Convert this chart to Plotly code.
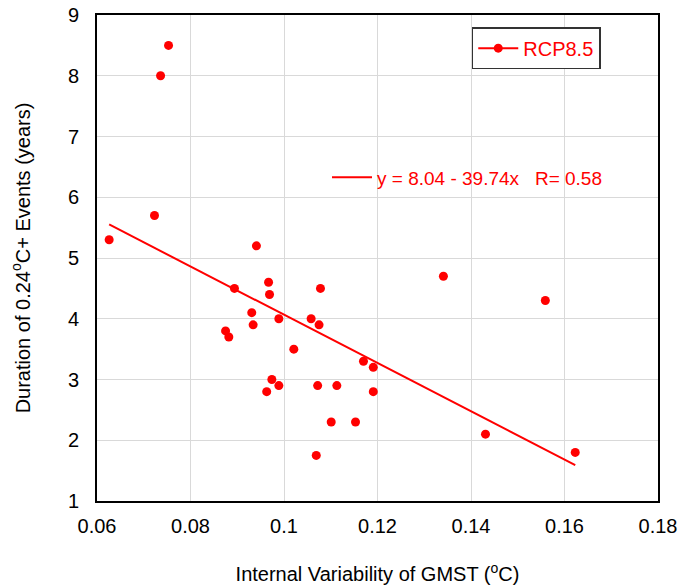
import plotly.graph_objects as go

x_vals = [0.0626, 0.0723, 0.0736, 0.0753, 0.0941, 0.0894, 0.0967, 0.0969, 0.0931, 0.0934,
          0.0989, 0.0875, 0.0882, 0.1021, 0.0974, 0.0989, 0.0963, 0.1058, 0.1078, 0.1075,
          0.1072, 0.1113, 0.1101, 0.1153, 0.1069, 0.1170, 0.1191, 0.1191, 0.1341, 0.1431,
          0.1559, 0.1623]
y_vals = [5.3, 5.7, 8.0, 8.5, 5.2, 4.5, 4.6, 4.4, 4.1, 3.9,
          4.0, 3.8, 3.7, 3.5, 3.0, 2.9, 2.8, 4.0, 4.5, 3.9,
          2.9, 2.9, 2.3, 2.3, 1.75, 3.3, 3.2, 2.8, 4.7, 2.1,
          4.3, 1.8]
intercept = 8.04
slope = -39.74
r_value = 0.58
x_ticks = [0.06, 0.08, 0.1, 0.12, 0.14, 0.16, 0.18]
y_ticks = [1, 2, 3, 4, 5, 6, 7, 8, 9]

RED = "#ff0000"
FONT = "Arial, Liberation Sans, sans-serif"

fit_x = [min(x_vals), max(x_vals)]
fit_y = [intercept + slope * v for v in fit_x]

fig = go.Figure()
fig.add_trace(go.Scatter(
    x=x_vals, y=y_vals, mode="markers", name="RCP8.5",
    marker=dict(color=RED, size=9), showlegend=False,
))
fig.add_trace(go.Scatter(
    x=fit_x, y=fit_y, mode="lines",
    name=f"y = {intercept:.2f} - {abs(slope):.2f}x   R= {r_value:.2f}",
    line=dict(color=RED, width=2),
    legend="legend2",
))
fig.add_trace(go.Scatter(
    x=[None], y=[None], mode="lines+markers", name="RCP8.5",
    line=dict(color=RED, width=2), marker=dict(color=RED, size=9),
    legend="legend",
))

fig.update_layout(
    width=683, height=586,
    margin=dict(l=97, r=25, t=15, b=85),
    paper_bgcolor="white", plot_bgcolor="white",
    font=dict(family=FONT, size=20, color="black"),
    showlegend=True,
    legend=dict(
        x=0.668, y=0.975, xanchor="left", yanchor="top",
        bordercolor="#333333", borderwidth=1.5, bgcolor="white",
        font=dict(color=RED, size=20, family=FONT),
        itemwidth=40,
    ),
    legend2=dict(
        x=0.41, y=0.705, xanchor="left", yanchor="top",
        borderwidth=0, bgcolor="rgba(0,0,0,0)",
        font=dict(color=RED, size=19, family=FONT),
        itemwidth=40,
    ),
    xaxis=dict(
        range=[0.06, 0.18], tickvals=x_ticks, ticktext=[f"{v:g}" for v in x_ticks],
        showgrid=True, gridcolor="#d9d9d9", gridwidth=1,
        showline=True, linecolor="black", linewidth=2, mirror=True,
        ticks="outside", ticklen=6, tickcolor="rgba(0,0,0,0)",
        tickfont=dict(size=20), zeroline=False, automargin=False,
        title=dict(text="Internal Variability of GMST (<sup>o</sup>C)", font=dict(size=20), standoff=31),
    ),
    yaxis=dict(
        range=[1, 9], tickvals=y_ticks,
        showgrid=True, gridcolor="#d9d9d9", gridwidth=1,
        showline=True, linecolor="black", linewidth=2, mirror=True,
        ticks="outside", ticklen=12, tickcolor="rgba(0,0,0,0)",
        tickfont=dict(size=20), zeroline=False, automargin=False,
        title=dict(text="Duration of 0.24<sup>o</sup>C+ Events (years)", font=dict(size=20), standoff=32),
    ),
)

fig.write_html("out.html")
